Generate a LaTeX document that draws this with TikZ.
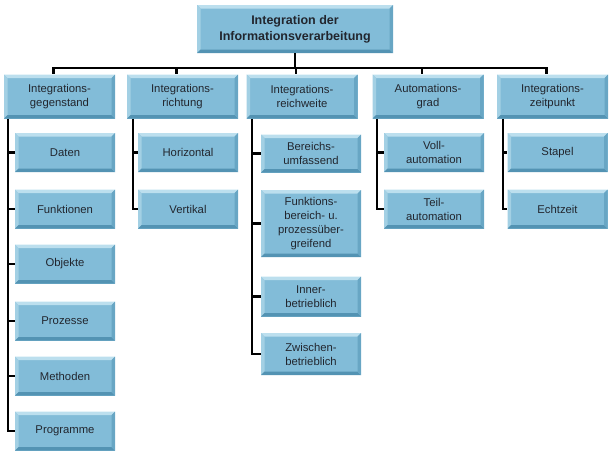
\documentclass[tikz,border=0pt]{standalone}
\usepackage{fontspec}
\setmainfont{Liberation Sans}
\usepackage{tikz}
\usetikzlibrary{calc}

\definecolor{boxfill}{HTML}{82BCD8}
\definecolor{boxlight}{HTML}{BCDFEE}
\definecolor{boxside}{HTML}{A3D0E4}
\definecolor{boxdark}{HTML}{5393B3}
\definecolor{boxdarkside}{HTML}{68A6C4}
\definecolor{boxtext}{HTML}{22262E}

\tikzset{
	bevel/.style={
		path picture={
			\fill[boxlight] (path picture bounding box.north west) -- (path picture bounding box.north east) -- ([shift={(-3.5pt,-3.5pt)}]path picture bounding box.north east) -- ([shift={(3.5pt,-3.5pt)}]path picture bounding box.north west) -- cycle;
			\fill[boxside] (path picture bounding box.north west) -- ([shift={(3.5pt,-3.5pt)}]path picture bounding box.north west) -- ([shift={(3.5pt,3.5pt)}]path picture bounding box.south west) -- (path picture bounding box.south west) -- cycle;
			\fill[boxdark] (path picture bounding box.south west) -- (path picture bounding box.south east) -- ([shift={(-3.5pt,3.5pt)}]path picture bounding box.south east) -- ([shift={(3.5pt,3.5pt)}]path picture bounding box.south west) -- cycle;
			\fill[boxdarkside] (path picture bounding box.north east) -- ([shift={(-3.5pt,-3.5pt)}]path picture bounding box.north east) -- ([shift={(-3.5pt,3.5pt)}]path picture bounding box.south east) -- (path picture bounding box.south east) -- cycle;
		}},
	rootbox/.style={bevel, fill=boxfill, text=boxtext, align=center, inner sep=0pt,
		minimum width=196pt, minimum height=48pt, font=\bfseries\fontsize{12.5}{16}\selectfont},
	mainbox/.style={bevel, fill=boxfill, text=boxtext, align=center, inner sep=0pt,
		minimum width=111pt, minimum height=44pt, font=\fontsize{11.3}{14}\selectfont},
	subbox/.style={bevel, fill=boxfill, text=boxtext, align=center, inner sep=0pt,
		minimum width=100pt, minimum height=39pt, font=\fontsize{11.3}{14}\selectfont},
	conn/.style={line width=2.2pt, color=black}
}

\begin{document}
\begin{tikzpicture}[x=1pt, y=-1pt]
			%%%%% START %%%%%
			\useasboundingbox (0, 0) rectangle (613, 455);
			
			\node[rootbox] (root) at (295, 29) {Integration der\\Informationsverarbeitung};
			
			\node[mainbox] (gegenstand) at (59.5, 96.5) {Integrations-\\gegenstand};
			\node[mainbox] (richtung) at (182.5, 96.5) {Integrations-\\richtung};
			\node[mainbox] (reichweite) at (302, 96.5) {Integrations-\\reichweite};
			\node[mainbox] (grad) at (428, 96.5) {Automations-\\grad};
			\node[mainbox] (zeitpunkt) at (552.5, 96.5) {Integrations-\\zeitpunkt};
			
			\node[subbox] (daten) at (65, 152.5) {Daten};
			\node[subbox] (funktionen) at (65, 209) {Funktionen};
			\node[subbox] (objekte) at (65, 264) {Objekte};
			\node[subbox] (prozesse) at (65, 321) {Prozesse};
			\node[subbox] (methoden) at (65, 376) {Methoden};
			\node[subbox] (programme) at (65, 431) {Programme};
			
			\node[subbox] (horizontal) at (188, 152.5) {Horizontal};
			\node[subbox] (vertikal) at (188, 209) {Vertikal};
			
			\node[subbox, minimum height=38pt] (bereichs) at (311, 153.5) {Bereichs-\\umfassend};
			\node[subbox, minimum height=67pt] (funktionsber) at (311, 223.5) {Funktions-\\bereich- u.\\prozessüber-\\greifend};
			\node[subbox, minimum height=40pt] (inner) at (311, 296.5) {Inner-\\betrieblich};
			\node[subbox, minimum height=42pt] (zwischen) at (311, 354) {Zwischen-\\betrieblich};
			
			\node[subbox] (voll) at (434, 152.5) {Voll-\\automation};
			\node[subbox] (teil) at (434, 209) {Teil-\\automation};
			
			\node[subbox] (stapel) at (557.5, 152.5) {Stapel};
			\node[subbox] (echtzeit) at (557.5, 209) {Echtzeit};
			
			% bus from the root to the five groups
			\coordinate (bus) at (295, 68);
			\draw[conn] (root.south) -- (bus);
			\draw[conn, line cap=rect] ([xshift=-6.5pt]gegenstand.north |- bus) -- ([xshift=-5.5pt]zeitpunkt.north |- bus);
			\foreach \g in {gegenstand, richtung, reichweite, grad, zeitpunkt}
				\draw[conn] ([xshift=-6pt]\g.north |- bus) -- ([xshift=-6pt]\g.north);
			
			% trunks and ticks
			\coordinate (t1) at ([xshift=4pt]gegenstand.south west);
			\draw[conn] (t1) |- (programme.west);
			\foreach \c in {daten, funktionen, objekte, prozesse, methoden}
				\draw[conn] (\c.west -| t1) -- (\c.west);
			
			\coordinate (t2) at ([xshift=6pt]richtung.south west);
			\draw[conn] (t2) |- (vertikal.west);
			\draw[conn] (horizontal.west -| t2) -- (horizontal.west);
			
			\coordinate (t3) at ([xshift=6pt]reichweite.south west);
			\draw[conn] (t3) |- (zwischen.west);
			\foreach \c in {bereichs, funktionsber, inner}
				\draw[conn] (\c.west -| t3) -- (\c.west);
			
			\coordinate (t4) at ([xshift=5pt]grad.south west);
			\draw[conn] (t4) |- (teil.west);
			\draw[conn] (voll.west -| t4) -- (voll.west);
			
			\coordinate (t5) at ([xshift=6pt]zeitpunkt.south west);
			\draw[conn] (t5) |- (echtzeit.west);
			\draw[conn] (stapel.west -| t5) -- (stapel.west);
			
			%%%%% END %%%%%
\end{tikzpicture}
\end{document}
